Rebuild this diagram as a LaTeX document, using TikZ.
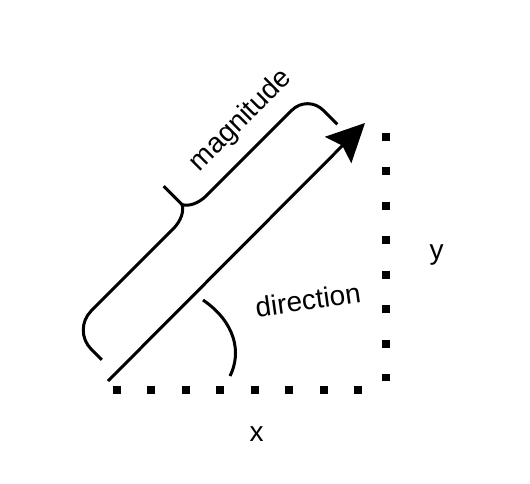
\documentclass[tikz,border=0pt]{standalone}
\usepackage{fontspec}
\setmainfont{Liberation Sans}
\usetikzlibrary{arrows.meta}
\begin{document}
\begin{tikzpicture}[x=1pt,y=1pt, line width=3pt,
  lbl/.style={font=\fontsize{28}{32}\selectfont, inner sep=0pt},
  dots/.style={line width=8pt, dash pattern=on 8pt off 26.43pt},
  vec/.style={-{Stealth[length=38pt,width=37pt,inset=6pt]}}]
\useasboundingbox (0,0) rectangle (530,483);
% vector
\coordinate (O) at (108,102);
\coordinate (P) at (365,360);
\draw[vec] (O) -- (P);
% dotted components
\coordinate (h0) at (113,93);
\coordinate (h1) at (362,93);
\draw[dots] (h0) -- (h1);
\coordinate (v0) at (386,350);
\coordinate (v1) at (386,102);
\draw[dots] (v0) -- (v1);
% angle arc
\coordinate (a0) at (203,183);
\coordinate (a1) at (230,107);
\draw (a0) .. controls (235,161) and (242,131) .. (a1);
% brace
\begin{scope}[shift={(219.5,241)}, rotate=45]
\coordinate (b0) at (-166.5,0);
\coordinate (b1) at (166.5,0);
\coordinate (bc) at (0,53);
\coordinate (bt) at (0,79);
\draw[line join=round] (b0) -- (-166.5,15) arc[start angle=180,end angle=90,radius=27]
  -- (-24,42) .. controls (-12,42) and (-3,47) .. (bc)
  .. controls (3,47) and (12,42) .. (24,42)
  -- (144.5,42) arc[start angle=90,end angle=0,radius=22] -- (b1);
\draw (bc) -- (bt);
\end{scope}
% labels
\node[lbl, rotate=45] (mag) at (241,362) {magnitude};
\node[lbl, rotate=8] (dir) at (308,183) {direction};
\node[lbl] (xl) at (256.5,49) {x};
\node[lbl] (yl) at (436.5,228) {y};
\end{tikzpicture}
\end{document}
